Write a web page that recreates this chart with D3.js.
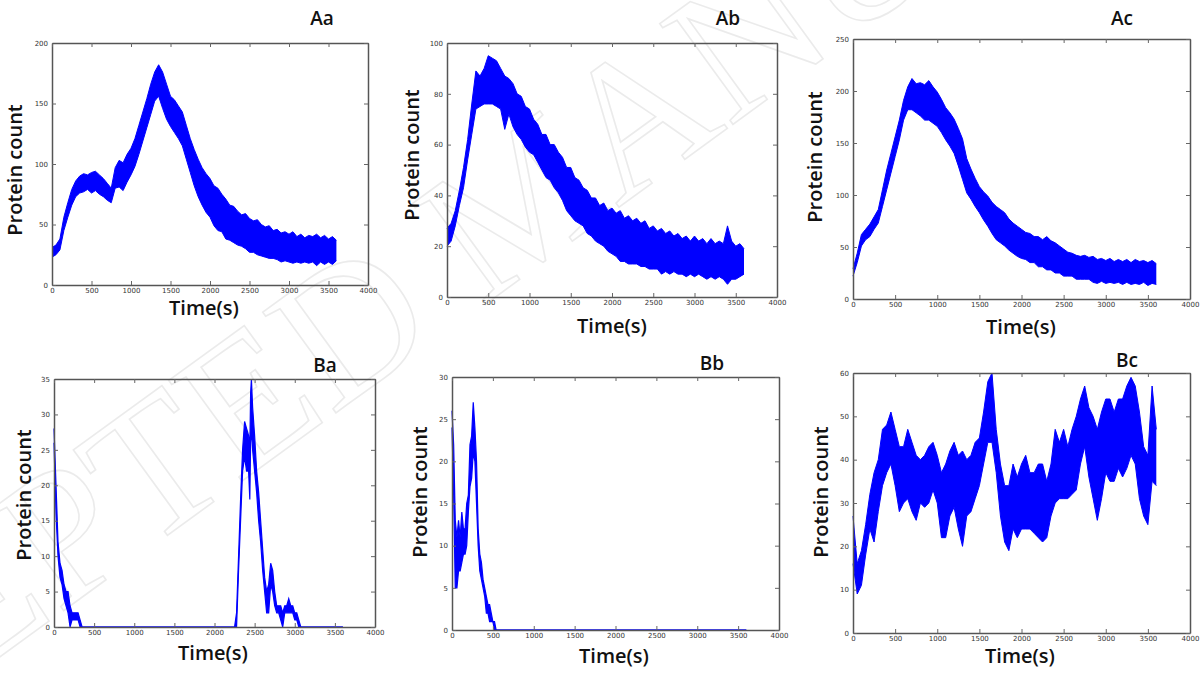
<!DOCTYPE html>
<html>
<head>
<meta charset="utf-8">
<script src="https://cdn.jsdelivr.net/npm/d3@7"></script>
<style>
  body { margin: 0; background: #fff; }
  svg { display: block; font-family: "Open Sans", sans-serif; }
</style>
</head>
<body>
<svg id="chart" width="1200" height="676"></svg>
<script>
// ---- data (lower / upper edge of the noisy trace) ----
var timeTicks = [0, 500, 1000, 1500, 2000, 2500, 3000, 3500, 4000];

// A panels and Bc are sampled every 50 s from 0 to 3600 s
var aaLow  = [23,25,29,45,56,66,73,76,77,79,76,78,75,73,70,68,80,81,78,85,91,98,108,119,130,141,152,156,146,137,131,126,121,115,104,93,82,73,66,60,56,49,45,44,38,37,35,33,32,30,27,27,25,24,23,22,22,21,19,20,19,18,19,18,19,18,19,16,19,17,19,17,20];
var aaHigh = [31,33,38,56,68,79,86,90,92,91,93,94,91,88,84,80,97,103,101,108,113,121,132,143,154,166,176,182,176,166,156,153,148,143,132,121,112,104,97,92,88,82,80,75,71,66,65,61,58,59,55,53,54,50,48,49,45,46,43,44,42,44,40,42,39,41,40,42,39,41,38,40,37];
var aaTicks = [0, 50, 100, 150, 200];

var abLow  = [20,22,28,36,43,54,64,74,75,76,76,76,75,74,66,72,67,64,62,59,57,56,53,50,47,46,43,41,38,34,32,30,29,28,25,24,22,21,20,18,17,16,14,14,13,13,13,12,12,11,11,11,9,10,9,10,9,9,8,9,8,9,8,7,8,7,8,7,5,7,7,8,9];
var abHigh = [27,29,34,42,51,62,76,89,87,90,95,94,93,90,87,86,84,80,79,75,74,70,68,64,64,60,60,57,55,51,51,47,46,43,42,39,39,36,37,34,35,33,34,31,32,30,31,29,30,27,28,26,27,25,26,24,25,23,24,22,24,22,23,21,23,21,22,21,28,22,20,21,19];
var abTicks = [0, 20, 40, 60, 80, 100];

var acLow  = [22,35,51,57,60,67,73,89,105,121,137,153,172,182,182,179,176,172,172,169,166,160,153,147,140,128,115,102,96,89,83,76,70,63,57,54,51,47,44,41,39,38,35,35,31,31,28,28,25,25,22,22,22,19,19,19,19,16,15,17,15,16,15,16,14,16,14,15,14,16,13,15,14];
var acHigh = [29,44,62,67,72,79,86,105,124,140,156,172,191,204,212,207,208,206,210,204,199,192,184,179,173,164,154,135,125,116,108,103,99,93,89,86,83,77,73,70,67,64,63,60,60,57,60,56,54,51,48,45,44,42,41,42,40,41,38,39,37,39,36,38,36,38,35,38,36,37,35,37,34];
var acTicks = [0, 50, 100, 150, 200, 250];

var bcLow  = [16,9,11,18,24,21,28,34,37,39,34,28,30,31,28,26,30,29,30,33,30,22,22,27,29,24,20,27,28,31,34,39,44,44,37,27,21,19,24,22,24,24,24,23,22,21,22,27,30,31,31,31,32,33,39,43,36,31,26,31,37,35,35,38,36,38,41,39,31,27,25,35,34];
var bcHigh = [27,16,19,25,32,37,40,47,48,51,47,43,43,47,44,41,40,41,43,44,41,37,39,42,44,41,42,40,41,44,45,51,58,60,47,39,34,34,39,36,39,41,37,37,39,39,35,39,47,44,47,43,47,50,54,57,52,50,47,51,54,54,51,54,54,57,59,57,51,43,41,57,47];
var bcTicks = [0, 10, 20, 30, 40, 50, 60];

// Ba and Bb: sampled where the trace moves
var baTime = [0,25,50,75,100,125,150,175,200,225,250,275,300,325,350,2250,2275,2300,2325,2350,2375,2400,2425,2440,2450,2460,2475,2500,2525,2550,2575,2600,2625,2650,2675,2700,2725,2750,2775,2800,2825,2850,2875,2900,2925,2950,2975,3000,3025,3050,3075,3600];
var baLow  = [26,16,10,7,6,4,3,2,0,1,1,1,1,0,0,0,0,8,15,22,24,22,22,18,26,28,25,22,19,15,12,8,5,2,2,6,5,3,2,2,1,0,2,2,2,2,2,1,1,0,0,0];
var baHigh = [28,20,12,9,8,6,5,5,3,2,2,2,2,1,0,0,2,10,18,25,29,28,27,25,33,35,31,27,22,19,15,11,7,5,6,9,8,5,3,3,3,2,3,3,4,3,3,2,2,1,0,0];
var baTicks = [0, 5, 10, 15, 20, 25, 30, 35];

var bbTime = [0,20,40,60,80,100,120,140,160,180,200,220,240,260,280,300,320,340,360,380,400,420,440,460,480,500,520,540,3600];
var bbLow  = [24,16,5,5,7,7,8,9,9,10,14,17,18,21,20,15,10,7,6,5,4,2,2,1,1,1,0,0,0];
var bbHigh = [26,22,13,11,13,11,14,12,12,15,16,22,23,27,24,20,12,9,8,6,5,4,3,3,2,1,1,0,0];
var bbTicks = [0, 5, 10, 15, 20, 25, 30];

function every50(arr) { return arr.map(function(d, i) { return i * 50; }); }

var panels = [
  {name: "Aa", time: every50(aaLow), low: aaLow, high: aaHigh, yTicks: aaTicks, box: [52, 43, 368, 285], title: [322, 20], ylab: [17, 170], xlab: [204, 310], w: 1},
  {name: "Ab", time: every50(abLow), low: abLow, high: abHigh, yTicks: abTicks, box: [447, 43, 777, 297], title: [728, 20], ylab: [414, 155], xlab: [612, 328], w: 1},
  {name: "Ac", time: every50(acLow), low: acLow, high: acHigh, yTicks: acTicks, box: [853, 39, 1190, 299], title: [1122, 20], ylab: [817, 157], xlab: [1021, 329], w: 1},
  {name: "Ba", time: baTime, low: baLow, high: baHigh, yTicks: baTicks, box: [54, 379, 375, 627], title: [325, 367], ylab: [26, 495], xlab: [213, 655], w: 1.2},
  {name: "Bb", time: bbTime, low: bbLow, high: bbHigh, yTicks: bbTicks, box: [452, 377, 779, 630], title: [712, 365], ylab: [422, 492], xlab: [614, 658], w: 1.2},
  {name: "Bc", time: every50(bcLow), low: bcLow, high: bcHigh, yTicks: bcTicks, box: [853, 373, 1190, 633], title: [1127, 362], ylab: [823, 492], xlab: [1020, 658], w: 1}
];

var svg = d3.select("#chart");

// faint watermark behind the plots
svg.append("text")
  .attr("transform", "translate(560,250) rotate(-36)")
  .attr("text-anchor", "middle")
  .style("font-family", "'Liberation Serif', serif")
  .style("font-size", "190px")
  .attr("fill", "none")
  .attr("stroke", "#ebebeb")
  .attr("stroke-width", 1.6)
  .text("ACCEPTED MANUSCRIPT");

panels.forEach(function(p) {
  var b = p.box;
  var x = d3.scaleLinear().domain([0, 4000]).range([b[0], b[2]]);
  var y = d3.scaleLinear().domain([0, d3.max(p.yTicks)]).range([b[3], b[1]]);
  var g = svg.append("g");

  var rows = p.time.map(function(t, i) { return {t: t, lo: p.low[i], hi: p.high[i]}; });

  // the trace
  g.append("path").datum(rows)
    .attr("fill", "#0000ff")
    .attr("d", d3.area().x(function(d) { return x(d.t); })
      .y0(function(d) { return y(d.lo); })
      .y1(function(d) { return y(d.hi); }));
  ["lo", "hi"].forEach(function(k) {
    g.append("path").datum(rows)
      .attr("fill", "none")
      .attr("stroke", "#0000ff")
      .attr("stroke-width", p.w)
      .attr("d", d3.line().x(function(d) { return x(d.t); }).y(function(d) { return y(d[k]); }));
  });

  // frame with inward ticks on all sides
  g.append("g").attr("transform", "translate(0," + b[3] + ")")
    .call(d3.axisBottom(x).tickValues(timeTicks).tickFormat(d3.format("d"))
      .tickSizeInner(-4).tickSizeOuter(0).tickPadding(3));
  g.append("g").attr("transform", "translate(" + b[0] + ",0)")
    .call(d3.axisLeft(y).tickValues(p.yTicks).tickFormat(d3.format("d"))
      .tickSizeInner(-4).tickSizeOuter(0).tickPadding(4));
  g.append("g").attr("transform", "translate(0," + b[1] + ")")
    .call(d3.axisTop(x).tickValues(timeTicks).tickSizeInner(-4).tickSizeOuter(0).tickFormat(""));
  g.append("g").attr("transform", "translate(" + b[2] + ",0)")
    .call(d3.axisRight(y).tickValues(p.yTicks).tickSizeInner(-4).tickSizeOuter(0).tickFormat(""));

  g.selectAll(".domain").attr("stroke", "#555").attr("stroke-width", 1.5);
  g.selectAll(".tick line").attr("stroke", "#666");
  g.selectAll(".tick text")
    .style("font-family", "'DejaVu Sans', sans-serif")
    .style("font-size", "7px")
    .attr("fill", "#333");

  // titles and labels
  g.append("text")
    .attr("x", p.title[0]).attr("y", p.title[1])
    .attr("text-anchor", "middle").attr("dominant-baseline", "middle")
    .style("font-size", "19px").style("font-weight", 600)
    .attr("fill", "#111")
    .text(p.name);
  g.append("text")
    .attr("transform", "translate(" + p.ylab[0] + "," + p.ylab[1] + ") rotate(-90)")
    .attr("text-anchor", "middle").attr("dominant-baseline", "middle")
    .style("font-size", "20px").style("font-weight", 600)
    .attr("fill", "#111")
    .text("Protein count");
  g.append("text")
    .attr("x", p.xlab[0]).attr("y", p.xlab[1])
    .attr("text-anchor", "middle").attr("dominant-baseline", "middle")
    .style("font-size", "20px").style("font-weight", 600)
    .attr("fill", "#111")
    .text("Time(s)");
});
</script>
</body>
</html>
